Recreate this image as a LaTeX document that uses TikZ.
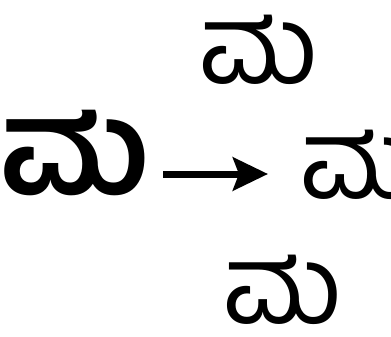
\documentclass[tikz,border=0pt]{standalone}
\usepackage{fontspec}
\newfontfamily\kannada[Script=Kannada, BoldFont=* SemiBold]{Hind Mysuru}
\usetikzlibrary{arrows.meta}

\tikzset{
    glyph/.style={inner sep=0pt, font=\kannada\bfseries\fontsize{132}{132}\selectfont},
    smallglyph/.style={inner sep=0pt, font=\kannada\fontsize{110}{110}\selectfont}
}

\begin{document}
\begin{tikzpicture}[x=1pt, y=-1pt]

    \useasboundingbox (0,0) rectangle (391,337);
    \clip (0,0) rectangle (391,337);

    \node[glyph] (ma) at (75,153) {ಮ};

    \node[smallglyph] (matop) at (259,50) {ಮ};
    \node[smallglyph, anchor=west] (mamid) at (300,165) {ಮ};
    \node[smallglyph] (mabot) at (283,290) {ಮ};

    \draw[line width=7pt, -{Stealth[length=35pt, width=33pt, inset=6pt]}]
        (163,174) -- (268,174);

\end{tikzpicture}
\end{document}
